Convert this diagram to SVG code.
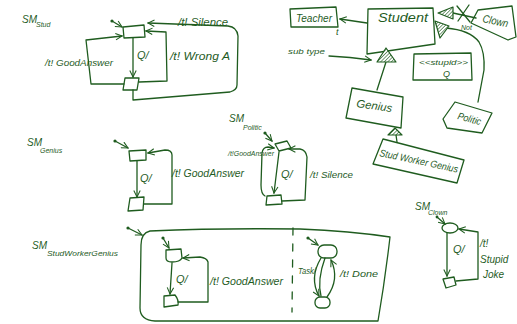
<svg xmlns="http://www.w3.org/2000/svg" width="517" height="324" viewBox="0 0 517 324">
  <style>
    .s { fill: none; stroke: #1f5c1f; stroke-width: 1.3; stroke-linecap: round; stroke-linejoin: round; }
    .t { font-family: "Liberation Sans", "DejaVu Sans", sans-serif; font-style: italic; fill: #1f5c1f; }
    .dot { fill: #1f5c1f; }
    .gen { fill: url(#hatch); stroke: #1f5c1f; stroke-width: 1.2; stroke-linejoin: round; }
  </style>
  <defs>
    <marker id="arr" viewBox="0 0 10 10" refX="9" refY="5" markerWidth="8" markerHeight="8" markerUnits="userSpaceOnUse" orient="auto">
      <path d="M1,1 L9,5 L1,9" fill="none" stroke="#1f5c1f" stroke-width="1.3"/>
    </marker>
    <pattern id="hatch" patternUnits="userSpaceOnUse" width="2.5" height="2.5" patternTransform="rotate(45)">
      <rect width="2.5" height="2.5" fill="#ffffff"/>
      <line x1="0" y1="0" x2="0" y2="2.5" stroke="#1f5c1f" stroke-width="1.2"/>
    </pattern>
  </defs>
  <rect width="517" height="324" fill="#ffffff"/>

  <!-- state machine: Stud -->
  <g id="sm-stud">
    <text class="t" x="22" y="23" font-size="10">SM</text>
    <text class="t" x="36" y="27" font-size="7">Stud</text>
    <circle class="dot" cx="112" cy="21" r="1.6"/>
    <path class="s" d="M123,27 L144,25 L145,37 L124,38 Z"/>
    <path class="s" d="M125,78 L139,78 L137,90 L123,90 Z"/>
    <text class="t" x="137" y="59" font-size="11">Q/</text>
    <text class="t" x="45" y="66" font-size="9" textLength="68" lengthAdjust="spacingAndGlyphs">/t! GoodAnswer</text>
    <text class="t" x="170" y="60" font-size="10" textLength="60" lengthAdjust="spacingAndGlyphs">/t! Wrong A</text>
    <text class="t" x="178" y="26" font-size="10" textLength="50" lengthAdjust="spacingAndGlyphs">/t! Silence</text>
  </g>

  <!-- class diagram -->
  <g id="teacher">
    <path class="s" d="M290,9 L336,7 L338,27 L291,27 Z"/>
    <text class="t" x="296" y="22" font-size="10" textLength="36" lengthAdjust="spacingAndGlyphs">Teacher</text>
  </g>
  <g id="student">
    <path class="s" d="M368,9 L433,8 L435,44 L367,54 Z"/>
    <text class="t" x="378" y="22" font-size="13" textLength="50" lengthAdjust="spacingAndGlyphs">Student</text>
  </g>
  <g id="clown">
    <path class="s" d="M478,10 L512,6 L516,37 L508,40 L471,23 Z"/>
    <text class="t" x="482" y="22" font-size="11" transform="rotate(12 482 22)" textLength="26" lengthAdjust="spacingAndGlyphs">Clown</text>
  </g>
  <g id="stupid">
    <path class="s" d="M414,54 L471,53 L472,80 L413,80 Z"/>
    <text class="t" x="419" y="65" font-size="8" textLength="49" lengthAdjust="spacingAndGlyphs">&lt;&lt;stupid&gt;&gt;</text>
    <text class="t" x="443" y="77" font-size="9">Q</text>
  </g>
  <g id="genius">
    <path class="s" d="M352,88 L403,97 L401,128 L346,118 Z"/>
    <text class="t" x="356" y="107" font-size="11" transform="rotate(8 356 107)" textLength="36" lengthAdjust="spacingAndGlyphs">Genius</text>
  </g>
  <g id="politic">
    <path class="s" d="M455,102 L492,113 L482,133 L447,128 L443,119 Z"/>
    <text class="t" x="457" y="119" font-size="10" transform="rotate(15 457 119)" textLength="24" lengthAdjust="spacingAndGlyphs">Politic</text>
  </g>
  <g id="stud-worker-genius">
    <path class="s" d="M383,139 L464,160 L457,183 L373,164 Z"/>
    <text class="t" x="379" y="156" font-size="10" transform="rotate(12 379 156)" textLength="80" lengthAdjust="spacingAndGlyphs">Stud Worker Genius</text>
  </g>
  <g id="subtype-note">
    <text class="t" x="288" y="54" font-size="8" textLength="37" lengthAdjust="spacingAndGlyphs">sub type</text>
  </g>

  <!-- state machine: Genius -->
  <g id="sm-genius">
    <text class="t" x="27" y="146" font-size="10">SM</text>
    <text class="t" x="40" y="153" font-size="7">Genius</text>
    <circle class="dot" cx="115" cy="141" r="1.6"/>
    <path class="s" d="M129,151 L146,150 L146,160 L130,161 Z"/>
    <path class="s" d="M130,198 L144,197 L143,210 L128,211 Z"/>
    <text class="t" x="140" y="182" font-size="11">Q/</text>
    <text class="t" x="172" y="177" font-size="10" textLength="72" lengthAdjust="spacingAndGlyphs">/t! GoodAnswer</text>
  </g>

  <!-- state machine: Politic -->
  <g id="sm-politic">
    <text class="t" x="229" y="122" font-size="10">SM</text>
    <text class="t" x="243" y="130" font-size="7">Politic</text>
    <circle class="dot" cx="265" cy="133" r="1.6"/>
    <path class="s" d="M275,144 L287,141 L291,148 L279,151 Z"/>
    <path class="s" d="M267,196 L281,195 L282,204 L266,205 Z"/>
    <text class="t" x="228" y="156" font-size="7.5" textLength="46" lengthAdjust="spacingAndGlyphs">/t!GoodAnswer</text>
    <text class="t" x="281" y="178" font-size="11">Q/</text>
    <text class="t" x="310" y="178" font-size="9" textLength="43" lengthAdjust="spacingAndGlyphs">/t! Silence</text>
  </g>

  <!-- state machine: StudWorkerGenius -->
  <g id="sm-studworkergenius">
    <text class="t" x="32" y="249" font-size="10">SM</text>
    <text class="t" x="47" y="256" font-size="7" textLength="71" lengthAdjust="spacingAndGlyphs">StudWorkerGenius</text>
    <circle class="dot" cx="128" cy="228" r="1.6"/>
    <path class="s" d="M150,231 Q220,228 300,229 Q350,231 390,237 Q385,280 378,321 L155,321 Q140,320 140,308 L141,245 Q141,233 150,231 Z"/>
    <path class="s" d="M293,228 L292,312" stroke-dasharray="7 9"/>
    <circle class="dot" cx="163" cy="238" r="1.6"/>
    <path class="s" d="M166,250 L181,249 L182,258 Q180,262 172,262 Q166,262 166,258 Z"/>
    <path class="s" d="M164,296 L175,295 Q179,300 178,305 L164,307 Z"/>
    <text class="t" x="176" y="283" font-size="11">Q/</text>
    <text class="t" x="210" y="285" font-size="10" textLength="73" lengthAdjust="spacingAndGlyphs">/t! GoodAnswer</text>
    <circle class="dot" cx="308" cy="238" r="1.6"/>
    <rect class="s" x="318" y="245" width="19" height="13" rx="6"/>
    <rect class="s" x="315" y="297" width="15" height="11" rx="5"/>
    <text class="t" x="298" y="274" font-size="9" textLength="18" lengthAdjust="spacingAndGlyphs">Task/</text>
    <text class="t" x="340" y="277" font-size="9" textLength="38" lengthAdjust="spacingAndGlyphs">/t! Done</text>
  </g>

  <!-- state machine: Clown -->
  <g id="sm-clown">
    <text class="t" x="415" y="210" font-size="10">SM</text>
    <text class="t" x="428" y="215" font-size="7">Clown</text>
    <circle class="dot" cx="437" cy="217" r="1.4"/>
    <ellipse class="s" cx="450" cy="228" rx="8" ry="5"/>
    <path class="s" d="M443,279 L454,277 L456,285 L446,288 Z"/>
    <text class="t" x="453" y="253" font-size="11">Q/</text>
    <text class="t" x="480" y="247" font-size="10">/t!</text>
    <text class="t" x="480" y="263" font-size="10">Stupid</text>
    <text class="t" x="483" y="278" font-size="10">Joke</text>
  </g>

  <!-- connectors -->
  <g id="connectors">
    <!-- SM Stud -->
    <path class="s" marker-end="url(#arr)" d="M112,21 L122,27"/>
    <path class="s" marker-end="url(#arr)" d="M133,38 L133,77"/>
    <path class="s" marker-end="url(#arr)" d="M124,84 L91,84 L86,40 L122,36"/>
    <path class="s" marker-end="url(#arr)" d="M139,82 L167,81 L166,32 L146,31"/>
    <path class="s" marker-end="url(#arr)" d="M133,90 L133,100 L230,92 Q237,90 237,85 L238,36 Q237,27 228,26 L148,23"/>
    <!-- class diagram -->
    <path class="s" marker-end="url(#arr)" d="M367,23 L340,19"/>
    <text class="t" x="336" y="35" font-size="9">t</text>
    <path class="s" marker-end="url(#arr)" d="M329,56 Q350,57 371,60"/>
    <path class="s" d="M386,62 L377,90"/>
    <polygon class="gen" points="386,48 377,62 396,62"/>
    <path class="s" d="M453,13 L476,18"/>
    <polygon class="gen" points="438,13 453,7 453,19"/>
    <path class="s" d="M457,6 L470,22 M469,5 L458,21"/>
    <text class="t" x="461" y="30" font-size="7">Not</text>
    <path class="s" d="M446,28 Q470,30 479,42 Q485,52 484,70 L478,102"/>
    <polygon class="gen" points="435,21 449,26 440,38"/>
    <path class="s" d="M396,135 L397,142"/>
    <polygon class="gen" points="395,128 388,135 402,135"/>
    <!-- SM Genius -->
    <path class="s" marker-end="url(#arr)" d="M115,141 L128,148"/>
    <path class="s" marker-end="url(#arr)" d="M137,161 L137,197"/>
    <path class="s" marker-end="url(#arr)" d="M144,204 L172,204 L172,155 Q172,150 165,150 L148,153"/>
    <!-- SM Politic -->
    <path class="s" marker-end="url(#arr)" d="M265,133 L272,141"/>
    <path class="s" marker-end="url(#arr)" d="M265,196 Q261,194 261,185 L262,153 Q263,147 268,147 L274,148"/>
    <path class="s" marker-end="url(#arr)" d="M279,152 L274,193"/>
    <path class="s" marker-end="url(#arr)" d="M282,201 L305,200 L307,157 Q306,150 300,149 L289,149"/>
    <!-- SM StudWorkerGenius -->
    <path class="s" marker-end="url(#arr)" d="M128,228 L142,235"/>
    <path class="s" marker-end="url(#arr)" d="M163,238 L169,248"/>
    <path class="s" marker-end="url(#arr)" d="M172,263 L170,294"/>
    <path class="s" marker-end="url(#arr)" d="M178,302 L208,302 L208,262 Q207,258 200,257 L183,258"/>
    <path class="s" marker-end="url(#arr)" d="M308,238 L318,245"/>
    <path class="s" marker-end="url(#arr)" d="M321,258 Q309,278 319,296"/>
    <path class="s" d="M325,258 Q317,280 321,296"/>
    <path class="s" marker-end="url(#arr)" d="M327,297 Q340,279 331,260"/>
    <!-- SM Clown -->
    <path class="s" marker-end="url(#arr)" d="M437,217 L445,224"/>
    <path class="s" marker-end="url(#arr)" d="M447,233 L447,276"/>
    <path class="s" marker-end="url(#arr)" d="M456,281 L478,279 L478,232 L459,229"/>
  </g>
</svg>
